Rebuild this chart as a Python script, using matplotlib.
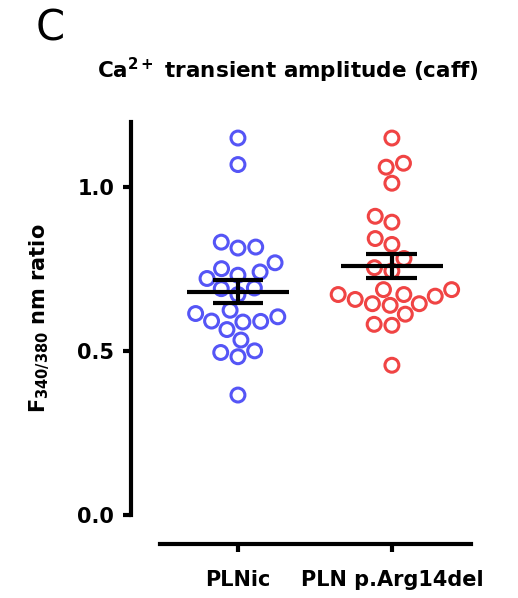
"""Ca2+ transient amplitude (caffeine) -- PLNic vs PLN p.Arg14del scatter with mean +/- SEM."""
import numpy as np
import pandas as pd
import matplotlib
matplotlib.use("Agg")
import matplotlib.pyplot as plt
import seaborn as sns

groups = ["PLNic", "PLN p.Arg14del"]
colors = ["#5555F6", "#F04444"]

# F340/380 ratio per cell
plnic = [1.151, 1.070, 0.833, 0.815, 0.818, 0.770, 0.752, 0.742, 0.722, 0.732,
         0.691, 0.693, 0.673, 0.625, 0.605, 0.591, 0.615, 0.589, 0.592, 0.566,
         0.534, 0.496, 0.483, 0.501, 0.366]
arg14del = [1.151, 1.074, 1.062, 1.013, 0.912, 0.894, 0.844, 0.826, 0.783, 0.755,
            0.745, 0.688, 0.688, 0.673, 0.668, 0.673, 0.658, 0.645, 0.640, 0.645,
            0.613, 0.582, 0.579, 0.457]

y_ticks = [0.0, 0.5, 1.0]
y_ticklabels = ["0.0", "0.5", "1.0"]

plt.rcParams["mathtext.default"] = "bf"

df = pd.DataFrame({
    "group": [groups[0]] * len(plnic) + [groups[1]] * len(arg14del),
    "ratio": plnic + arg14del,
})

fig = plt.figure(figsize=(5.18, 5.98), dpi=100)
ax = fig.add_axes([0.309, 0.139, 0.600, 0.657])

sns.swarmplot(data=df, x="group", y="ratio", hue="group", order=groups,
              hue_order=groups, palette=colors, size=10, legend=False, ax=ax)
for coll, c in zip(ax.collections, colors):
    coll.set_facecolor("none")
    coll.set_edgecolor(c)
    coll.set_linewidth(2.2)

# mean and SEM bars
for i, vals in enumerate([plnic, arg14del]):
    v = np.asarray(vals)
    m = v.mean()
    sem = v.std(ddof=1) / np.sqrt(len(v))
    ax.hlines(m, i - 0.33, i + 0.33, color="black", lw=3, zorder=5)
    ax.hlines([m - sem, m + sem], i - 0.165, i + 0.165, color="black", lw=3, zorder=5)
    ax.vlines(i, m - sem, m + sem, color="black", lw=3, zorder=5)

ax.set_xlim(-0.506, 1.513)
ax.set_ylim(0, 1.2)

for side in ["top", "right"]:
    ax.spines[side].set_visible(False)
ax.spines["left"].set_position(("outward", 21))
ax.spines["bottom"].set_position(("outward", 21))
ax.spines["left"].set_linewidth(3)
ax.spines["bottom"].set_linewidth(3)
ax.tick_params(axis="y", width=3, length=6, pad=6, labelsize=15)
ax.tick_params(axis="x", width=3, length=6, pad=13, labelsize=15)

ax.set_yticks(y_ticks)
ax.set_yticklabels(y_ticklabels)
ax.set_xticks(range(len(groups)))
ax.set_xticklabels(groups)
for lab in ax.get_xticklabels() + ax.get_yticklabels():
    lab.set_fontweight("bold")

ax.set_xlabel("")
ax.set_ylabel("F$_{340/380}$ nm ratio", fontsize=15, fontweight="bold", labelpad=18)

fig.text(0.555, 0.882, "Ca$^{2+}$ transient amplitude (caff)", ha="center", va="center",
         fontsize=15.5, fontweight="bold")
fig.text(0.097, 0.953, "C", ha="center", va="center", fontsize=30)

fig.savefig("out.png", dpi=100)
